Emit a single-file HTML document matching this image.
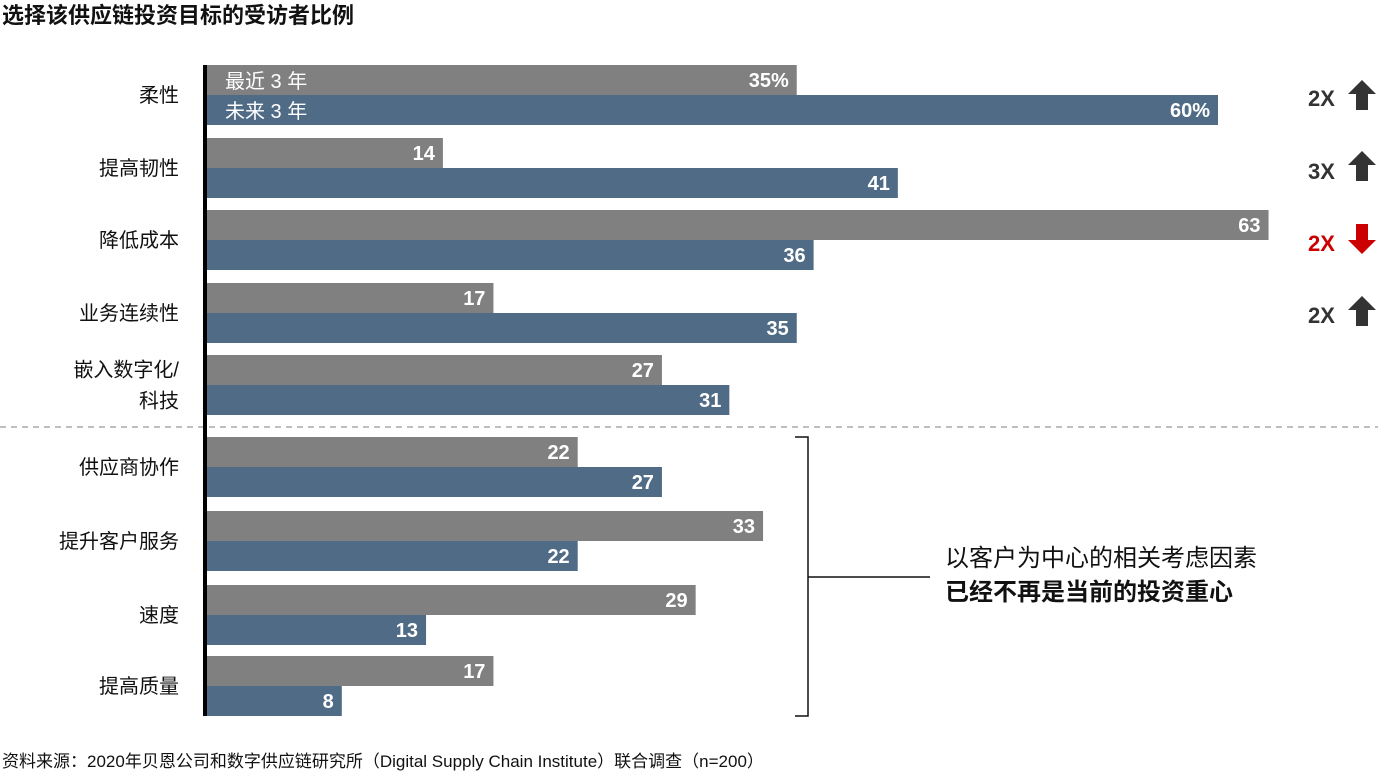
<!DOCTYPE html>
<html><head><meta charset="utf-8"><style>
body{margin:0;width:1378px;height:775px;background:#fff;overflow:hidden;font-family:"Liberation Sans","Noto Sans CJK SC",sans-serif}
svg text{font-family:"Liberation Sans","Noto Sans CJK SC",sans-serif}
</style></head><body>
<svg id="c" width="1378" height="775">
<text x="2" y="23" font-size="22" font-weight="bold" fill="#111">选择该供应链投资目标的受访者比例</text>
<text x="2" y="767" font-size="17" fill="#111">资料来源：2020年贝恩公司和数字供应链研究所（Digital Supply Chain Institute）联合调查（n=200）</text>
<line x1="0" y1="427" x2="1378" y2="427" stroke="#aaa" stroke-width="1.5" stroke-dasharray="6,5"/>
<g id="bars"></g>
<rect x="203" y="65" width="4" height="651" fill="#000"/>
<text x="225" y="88" font-size="20" fill="#fff">最近 3 年</text>
<text x="225" y="118" font-size="20" fill="#fff">未来 3 年</text>
<g font-size="22" font-weight="bold">
<text x="1308" y="106" fill="#333">2X</text><path d="M1362 80 L1376 94 L1368 94 L1368 110 L1356 110 L1356 94 L1348 94Z" fill="#333"/>
<text x="1308" y="179" fill="#333">3X</text><path d="M1362 151 L1376 165 L1368 165 L1368 181 L1356 181 L1356 165 L1348 165Z" fill="#333"/>
<text x="1308" y="251" fill="#c00">2X</text><path d="M1356 224 L1368 224 L1368 240 L1376 240 L1362 254 L1348 240 L1356 240Z" fill="#c00"/>
<text x="1308" y="323" fill="#333">2X</text><path d="M1362 296 L1376 310 L1368 310 L1368 326 L1356 326 L1356 310 L1348 310Z" fill="#333"/>
</g>
<g stroke="#111" stroke-width="1.5" fill="none">
<path d="M795 437 L808 437 L808 716 L795 716 M808 577 L930 577"/>
</g>
<text x="945" y="566" font-size="24" fill="#111">以客户为中心的相关考虑因素</text>
<text x="945" y="600" font-size="24" font-weight="bold" fill="#111">已经不再是当前的投资重心</text>
</svg>
<script>
const categories=[["柔性"],["提高韧性"],["降低成本"],["业务连续性"],["嵌入数字化/","科技"],["供应商协作"],["提升客户服务"],["速度"],["提高质量"]];
const pastValues=[35,14,63,17,27,22,33,29,17];
const futureValues=[60,41,36,35,31,27,22,13,8];
const valueLabelsPast=["35%","14","63","17","27","22","33","29","17"];
const valueLabelsFuture=["60%","41","36","35","31","27","22","13","8"];
const groupTops=[65,138,210,283,355,437,511,585,656];
const x0=207, scale=16.85, bh=30;
const xs=v=>x0+v*scale;
const g=document.getElementById('bars');
const NS="http://www.w3.org/2000/svg";
function mk(t,a){const e=document.createElementNS(NS,t);for(const k in a)e.setAttribute(k,a[k]);g.appendChild(e);return e;}
categories.forEach((cat,i)=>{
  const y=groupTops[i];
  [[pastValues,valueLabelsPast,"#808080",0,'bar-past'],[futureValues,valueLabelsFuture,"#506b85",bh,'bar-future']].forEach(([vals,labs,col,off,nm])=>{
    const r=mk('rect',{x:x0,y:y+off,width:xs(vals[i])-x0,height:bh,fill:col});
    
    
    const t=mk('text',{x:xs(vals[i])-8,y:y+off+22,'text-anchor':'end','font-size':20,'font-weight':'bold',fill:'#fff'});
    t.textContent=labs[i];
    
    
  });
  const n=cat.length;
  cat.forEach((line,j)=>{
    const t=mk('text',{x:179,y:y+bh+7+(j-(n-1)/2)*31,'text-anchor':'end','font-size':20,fill:'#111'});
    t.textContent=line;
    
    
  });
});
</script>
</body></html>
